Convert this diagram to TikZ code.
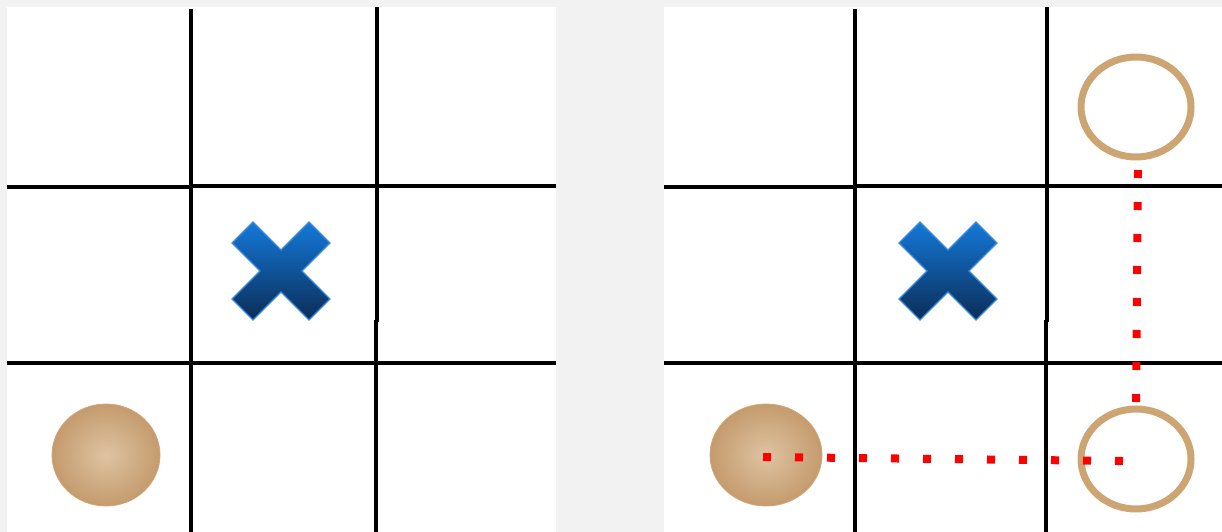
\documentclass[tikz,border=0pt]{standalone}
\begin{document}
\begin{tikzpicture}[x=1pt,y=-1pt,
  gridline/.style={line width=4.5pt,black},
  xmark/.style={draw=xborder,line width=1.2pt,top color=xtop,bottom color=xbot},
  stone/.style={draw=stoneedge,line width=0.8pt,inner color=stonein,outer color=stoneout},
  ring/.style={draw=ringcol,line width=7pt},
  reddots/.style={draw=red,line width=8pt,dash pattern=on 8pt off 24pt}]
\definecolor{bg}{HTML}{F2F2F2}
\definecolor{xborder}{HTML}{3C8CDC}
\definecolor{xtop}{HTML}{1479D8}
\definecolor{xbot}{HTML}{0B2D58}
\definecolor{stonein}{HTML}{DEC3A2}
\definecolor{stoneout}{HTML}{C49B6D}
\definecolor{stoneedge}{HTML}{D2A676}
\definecolor{ringcol}{HTML}{CDA573}
\useasboundingbox (0,0) rectangle (1222,532);
\fill[bg] (0,0) rectangle (1222,532);
% panels
\fill[white] (7,7) rectangle (556,532);
\fill[white] (664,7) rectangle (1222,532);
% left grid
\draw[gridline] (191,9) -- (191,532);
\draw[gridline] (377,7) -- (377,322);
\draw[gridline] (376,320) -- (376,532);
\draw[gridline] (7,187) -- (193,187);
\draw[gridline] (189,186) -- (556,186);
\draw[gridline] (7,363) -- (556,363);
% right grid
\draw[gridline] (855,9) -- (855,532);
\draw[gridline] (1047,7) -- (1047,322);
\draw[gridline] (1046,320) -- (1046,532);
\draw[gridline] (664,187) -- (857,187);
\draw[gridline] (853,186) -- (1222,186);
\draw[gridline] (664,363) -- (1222,363);
% X marks
\foreach \cx/\cy in {281/271, 948/271}{
  \path[xmark] (\cx-28,\cy-49) -- (\cx,\cy-21) -- (\cx+28,\cy-49) -- (\cx+49,\cy-28)
    -- (\cx+21,\cy) -- (\cx+49,\cy+28) -- (\cx+28,\cy+49) -- (\cx,\cy+21)
    -- (\cx-28,\cy+49) -- (\cx-49,\cy+28) -- (\cx-21,\cy) -- (\cx-49,\cy-28) -- cycle;
}
% stones
\path[stone] (106,455) ellipse [x radius=54, y radius=51];
\path[stone] (766,455) ellipse [x radius=56, y radius=51];
% rings
\draw[ring] (1136,107) ellipse [x radius=55, y radius=50];
\draw[ring] (1136,459) ellipse [x radius=55, y radius=50];
% red dotted path
\coordinate (h0) at (763,457);
\coordinate (h1) at (1123,461);
\coordinate (v0) at (1138,170);
\coordinate (v1) at (1136,402);
\draw[reddots] (h0) -- (h1);
\draw[reddots] (v0) -- (v1);
\end{tikzpicture}
\end{document}
